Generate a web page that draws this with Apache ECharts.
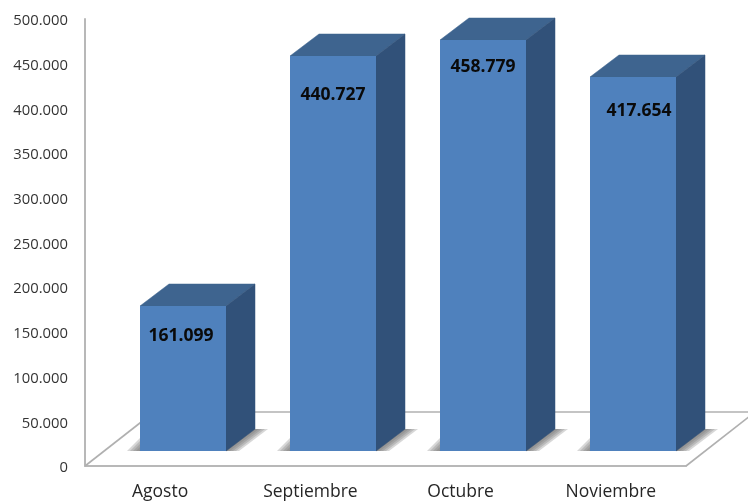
<!DOCTYPE html>
<html>
<head>
<meta charset="utf-8">
<style>
  html, body { margin: 0; padding: 0; background: #fff; }
  #chart { width: 748px; height: 501px; }
</style>
<script src="https://cdn.jsdelivr.net/npm/echarts@6/dist/echarts.min.js"></script>
</head>
<body>
<div id="chart"></div>
<script>
const categories = ['Agosto', 'Septiembre', 'Octubre', 'Noviembre'];
const values = [161099, 440727, 458779, 417654];

// 3D look: the bars stand on a floor, pushed back from the axis plane
const depthX = 29;
const depthY = -22;
const standX = 23;
const standY = -15;
const topLift = -1;
const labelDrop = [30, 39, 27, 34];
const labelShift = [-2, 0, 0, 6];

const fmt = v => String(v).replace(/\B(?=(\d{3})+$)/g, '.');

function renderBar(params, api) {
    const i = api.value(0);
    const v = api.value(1);
    const top = api.coord([i, v]);
    const base = api.coord([i, 0]);
    const w = Math.round(api.size([1, 0])[0] * 0.573);
    const l = Math.floor(top[0] + standX - w / 2);
    const r = l + w;
    const t = Math.round(top[1] + standY + topLift);
    const b = Math.round(base[1] + standY);

    // floor shadow, stacked layers for a soft edge
    const shadow = [13, 10, 7, 4, 1].map(k => ({
        type: 'polygon',
        shape: { points: [[l - k, b], [l, b - k], [r + depthX, b + depthY], [r + depthX + k, b + depthY], [r + k, b]] },
        style: { fill: 'rgba(110,110,110,0.28)' }
    }));

    return {
        type: 'group',
        children: shadow.concat([
            {
                type: 'polygon',
                shape: { points: [[l, t], [l + depthX, t + depthY], [r + depthX, t + depthY], [r, t]] },
                style: { fill: '#3e648f', stroke: '#3e648f', lineWidth: 0.5 }
            },
            {
                type: 'polygon',
                shape: { points: [[r, t], [r + depthX, t + depthY], [r + depthX, b + depthY], [r, b]] },
                style: { fill: '#315179', stroke: '#315179', lineWidth: 0.5 }
            },
            {
                type: 'rect',
                shape: { x: l, y: t, width: w, height: b - t },
                style: { fill: '#4f81bd' }
            },
            {
                type: 'text',
                style: {
                    text: fmt(v),
                    x: (l + r) / 2 + labelShift[i],
                    y: t + labelDrop[i],
                    align: 'center',
                    verticalAlign: 'middle',
                    fill: '#0a0a0a',
                    font: 'bold 17.5px "Open Sans"'
                }
            }
        ])
    };
}

// floor outline, taken from the grid rect
function renderFloor(params) {
    const c = params.coordSys;
    const x0 = c.x;
    const x1 = c.x + c.width;
    const y0 = c.y + c.height;
    const backY = y0 - 54;
    const line = (ax, ay, bx, by) => ({
        type: 'line',
        shape: { x1: ax, y1: ay, x2: bx, y2: by },
        style: { stroke: '#b0b0b0', lineWidth: 1.6 }
    });
    return {
        type: 'group',
        children: [
            line(x0, y0, x0 + 69, backY),
            line(x0 + 69, backY, 748, backY),
            line(x1, y0, x1 + 69, backY)
        ]
    };
}

const chart = echarts.init(document.getElementById('chart'), null, { renderer: 'canvas' });
chart.setOption({
    animation: false,
    backgroundColor: '#fff',
    grid: { left: 85, top: 19, width: 601, height: 447, outerBoundsMode: 'none' },
    xAxis: {
        type: 'category',
        data: categories,
        axisTick: { show: false },
        axisLine: { lineStyle: { color: '#b8b8b8', width: 2 } },
        axisLabel: { color: '#262626', fontFamily: 'Open Sans', fontSize: 17.5, margin: 17 }
    },
    yAxis: {
        type: 'value',
        min: 0,
        max: 500000,
        interval: 50000,
        splitLine: { show: false },
        axisTick: { show: false },
        axisLine: { show: true, lineStyle: { color: '#b8b8b8', width: 2 } },
        axisLabel: {
            margin: 17,
            formatter: v => '{n|' + fmt(v) + '}',
            rich: {
                n: { color: '#333', fontFamily: 'Open Sans', fontSize: 14.8, padding: [4, 0, 0, 0] }
            }
        }
    },
    series: [
        {
            type: 'custom',
            coordinateSystem: 'cartesian2d',
            renderItem: renderFloor,
            data: [[0, 0]],
            silent: true,
            z: 1
        },
        {
            type: 'custom',
            coordinateSystem: 'cartesian2d',
            renderItem: renderBar,
            encode: { x: 0, y: 1 },
            data: values.map((v, i) => [i, v]),
            z: 2
        }
    ]
});
</script>
</body>
</html>
